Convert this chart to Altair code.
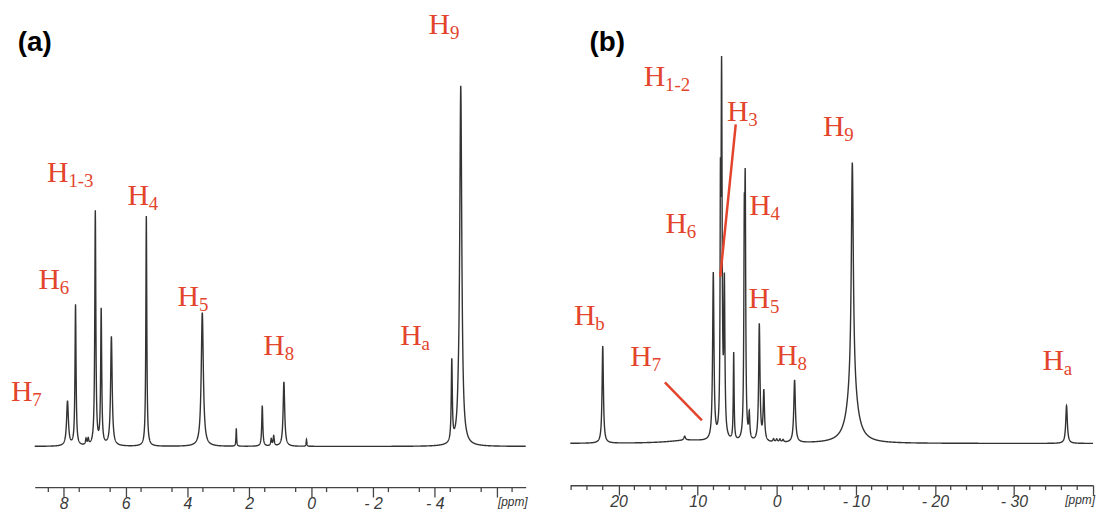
import altair as alt
import numpy as np
import pandas as pd

RED = "#e3442c"
INK = "#333333"
AX = "#444444"

# ---------------- panel (a): peaks ----------------
a_pos = [7.88, 7.62, 7.28, 7.21, 6.98, 6.79, 6.46, 5.33, 3.52, 2.42, 1.58, 1.29, 1.21, 0.88, 0.15, -4.55, -4.76, -4.84]
a_hgt = [45, 142, 6, 6, 236, 136, 110, 232, 135, 18, 41, 7, 10, 65, 7, 82, 10, 362]
a_wid = [0.035, 0.02, 0.02, 0.02, 0.02, 0.02, 0.03, 0.018, 0.04, 0.012, 0.02, 0.02, 0.02, 0.03, 0.012, 0.02, 0.03, 0.04]

a_lab_sub = ["9", "1-3", "4", "6", "5", "8", "a", "7"]
a_lab_x = [-3.80, 8.54, 5.94, 8.82, 4.32, 1.545, -2.88, 9.71]
a_lab_y = [415.5, 266.5, 243.5, 158.5, 142, 92, 102.5, 45.5]

a_major = [8, 6, 4, 2, 0, -2, -4, -6]
a_labels = ["8", "6", "4", "2", "0", "- 2", "- 4", ""]
a_minor = [8.5, 7.5, 6.5, 5.5, 4.5, 3.5, 2.5, 1.5, 0.5, -0.5, -1.5, -2.5, -3.5, -4.5, -5.5, -6.5]
a_domain = [-6.94, 8.94]

# ---------------- panel (b): peaks ----------------
b_pos = [22.0, 11.64, 11.2, 8.02, 7.12, 6.97, 6.62, 5.44, 4.10, 3.98, 3.47, 2.2, 1.63, 0.4, 0.0, -0.4, -0.8, -2.26, -9.56, -9.56, -36.65]
b_hgt = [98, 4, 3, 168, 200, 360, 150, 88, 190, 225, 25, 118, 50, 3, 3, 3, 2.5, 63, 225, 58, 38]
b_wid = [0.1, 0.12, 3.0, 0.1, 0.05, 0.08, 0.08, 0.06, 0.07, 0.07, 0.08, 0.1, 0.1, 0.1, 0.1, 0.1, 0.1, 0.12, 0.15, 0.7, 0.12]

b_lab_sub = ["1-2", "3", "9", "4", "6", "5", "b", "7", "8", "a"]
b_lab_x = [16.82, 6.29, -5.84, 3.47, 14.06, 3.56, 25.63, 18.51, 0.06, -33.6]
b_lab_y = [360, 325, 310, 230, 212, 137, 119, 78, 79, 74]

b_line_x1 = [5.18, 14.14]
b_line_y1 = [321.7, 61.7]
b_line_x2 = [7.14, 9.46]
b_line_y2 = [168.3, 23.3]

b_major = [20, 10, 0, -10, -20, -30, -40]
b_labels = ["20", "10", "0", "- 10", "- 20", "- 30", ""]
b_minor = [26, 24, 22, 18, 16, 14, 12, 8, 6, 4, 2, -2, -4, -6, -8, -12, -14, -16, -18,
           -22, -24, -26, -28, -32, -34, -36, -38]
b_domain = [-40.0, 26.1]


def spectrum(pos, hgt, wid, lo, hi, step):
    x = np.arange(lo, hi + step / 2, step)
    x = np.union1d(x, np.array(pos))
    y = np.zeros_like(x)
    for p, h, w in zip(pos, hgt, wid):
        y += h * w * w / ((x - p) ** 2 + w * w)
    return pd.DataFrame({"ppm": x, "I": y})


def panel(spec, labs, tag, tag_xy, domain, width, height, offset, major, labels,
          minor, lines=None):
    xs = alt.Scale(domain=domain, reverse=True, nice=False, zero=False)
    ys = alt.Scale(domain=[0, height], nice=False, zero=False)
    mapping = "{" + ", ".join(f"'{v}': '{t}'" for v, t in zip(major, labels)) + "}"
    axis = alt.Axis(
        values=major,
        tickSize=10,
        labelExpr=f"{mapping}['' + datum.value]",
        labelFont="Liberation Sans", labelFontStyle="italic", labelFontSize=16,
        labelColor="#3a3a3a", domainColor=AX, domainWidth=1.5,
        tickColor=AX, tickWidth=1.3, offset=offset, grid=False, title=None,
        labelPadding=-1, labelOverlap=False, labelFlush=False,
    )
    line = alt.Chart(spec).mark_line(color=INK, strokeWidth=1.4).encode(
        x=alt.X("ppm:Q", scale=xs, axis=axis),
        y=alt.Y("I:Q", scale=ys, axis=None),
    )
    minor_df = pd.DataFrame({"t": minor})
    minor_ticks = alt.Chart(minor_df).mark_rule(color=AX, strokeWidth=1.3).encode(
        x="t:Q", y=alt.value(height + offset), y2=alt.value(height + offset + 5)
    )
    h_txt = alt.Chart(labs).mark_text(
        text="H", font="Liberation Serif", fontSize=30, color=RED,
        align="left", baseline="alphabetic",
    ).encode(x="x:Q", y="y:Q")
    sub_txt = alt.Chart(labs).mark_text(
        font="Liberation Serif", fontSize=19, color=RED,
        align="left", baseline="alphabetic", dx=21.5, dy=5,
    ).encode(x="x:Q", y="y:Q", text="sub:N")
    tag_df = pd.DataFrame({"x": [tag_xy[0]], "y": [tag_xy[1]], "t": [tag]})
    tag_txt = alt.Chart(tag_df).mark_text(
        font="Liberation Sans", fontWeight="bold", fontSize=28, color="black",
        align="left", baseline="alphabetic",
    ).encode(x="x:Q", y="y:Q", text="t:N")
    ppm_df = pd.DataFrame({"x": [domain[0]], "t": ["[ppm]"]})
    ppm_txt = alt.Chart(ppm_df).mark_text(
        font="Liberation Sans", fontStyle="italic", fontSize=12, color="#333",
        align="right", baseline="top", dx=2,
    ).encode(x="x:Q", y=alt.value(height + offset + 10), text="t:N")
    layers = [line, minor_ticks, h_txt, sub_txt, tag_txt, ppm_txt]
    if lines is not None:
        layers.append(
            alt.Chart(lines).mark_rule(color=RED, strokeWidth=2.5).encode(
                x="x1:Q", y="y1:Q", x2="x2:Q", y2="y2:Q"
            )
        )
    return alt.layer(*layers).properties(width=width, height=height)


spec_a = spectrum(a_pos, a_hgt, a_wid, a_domain[0], a_domain[1], 0.004)
spec_b = spectrum(b_pos, b_hgt, b_wid, b_domain[0], b_domain[1], 0.01)

labs_a = pd.DataFrame({"x": a_lab_x, "y": a_lab_y, "sub": a_lab_sub})
labs_b = pd.DataFrame({"x": b_lab_x, "y": b_lab_y, "sub": b_lab_sub})
lines_b = pd.DataFrame({"x1": b_line_x1, "y1": b_line_y1, "x2": b_line_x2, "y2": b_line_y2})

pa = panel(spec_a, labs_a, "(a)", (9.49, 398.5), a_domain, 495, 448, 41,
           a_major, a_labels, a_minor)
pb = panel(spec_b, labs_b, "(b)", (23.66, 395.5), b_domain, 527, 445, 42,
           b_major, b_labels, b_minor, lines_b)

chart = (
    alt.hconcat(pa, pb, spacing=39)
    .properties(padding={"left": 10, "top": 0, "right": 1, "bottom": 4}, background="white")
    .configure_view(stroke=None)
)

chart.save("out.html", embed_options={"renderer": "svg", "actions": False})
